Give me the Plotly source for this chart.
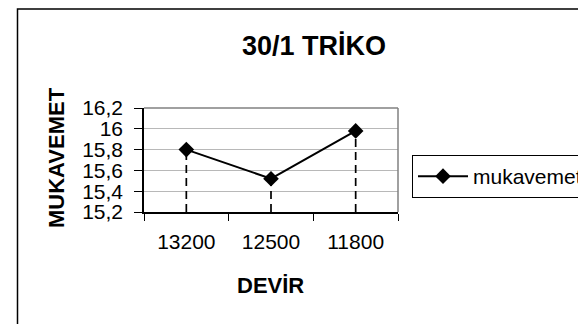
import plotly.graph_objects as go

categories = ["13200", "12500", "11800"]
mukavemet = [15.80, 15.52, 15.98]
y_ticks = [15.2, 15.4, 15.6, 15.8, 16.0, 16.2]
y_tick_labels = ["15,2", "15,4", "15,6", "15,8", "16", "16,2"]
series_name = "mukavemet"
title_text = "30/1 TRİKO"
x_title = "DEVİR"
y_title = "MUKAVEMET"

W, H = 586, 324
L, R, T, B = 136, 196, 100, 120
pw, ph = W - L - R, H - T - B

def px_x(x):
    return (x - L) / pw

def px_y(y):
    return (H - B - y) / ph

fig = go.Figure()

# drop lines
for c, v in zip(categories, mukavemet):
    fig.add_trace(go.Scatter(
        x=[c, c], y=[y_ticks[0], v], mode="lines",
        line=dict(color="black", width=1.7, dash="8px,5px"),
        showlegend=False, hoverinfo="skip"))

fig.add_trace(go.Scatter(
    x=categories, y=mukavemet, mode="lines+markers", name=series_name,
    line=dict(color="black", width=2),
    marker=dict(symbol="diamond", size=12, color="black")))

font = "Liberation Sans, Arial, sans-serif"
fig.update_layout(
    width=W, height=H,
    margin=dict(l=L, r=R, t=T, b=B, autoexpand=False),
    paper_bgcolor="white", plot_bgcolor="white",
    font=dict(family=font, size=21, color="black"),
    showlegend=True,
    legend=dict(x=px_x(404), y=px_y(147), xanchor="left", yanchor="top",
                bordercolor="black", borderwidth=1, bgcolor="white",
                font=dict(size=21), itemwidth=50, tracegroupgap=0),
    xaxis=dict(type="category", showgrid=False, showline=True, linecolor="black",
               linewidth=1.5, ticks="outside", tickson="boundaries", ticklen=7,
               tickcolor="black", tickwidth=1.2, tickfont=dict(size=21),
               ticklabelstandoff=10,
               range=[-0.5, 2.5], fixedrange=True),
    yaxis=dict(range=[15.2, 16.2], tickvals=y_ticks, ticktext=y_tick_labels,
               showgrid=True, gridcolor="#b8b8b8", gridwidth=1,
               showline=True, linecolor="black", linewidth=1.5,
               ticks="outside", ticklen=8, tickcolor="black", tickwidth=1.2,
               tickfont=dict(size=21), ticklabelstandoff=7,
               zeroline=False, fixedrange=True),
    shapes=[
        dict(type="line", xref="paper", yref="paper", x0=0, x1=1, y0=1, y1=1,
             line=dict(color="#808080", width=1.5)),
        dict(type="line", xref="paper", yref="paper", x0=1, x1=1, y0=0, y1=1,
             line=dict(color="#808080", width=1.5)),
        dict(type="rect", xref="paper", yref="paper",
             x0=px_x(9.5), x1=px_x(600), y0=px_y(318.5), y1=px_y(1),
             line=dict(color="black", width=1.5)),
    ],
    annotations=[
        dict(text="<b>" + title_text + "</b>", x=px_x(306), y=px_y(38),
             xref="paper", yref="paper", showarrow=False,
             font=dict(size=27), xanchor="center", yanchor="middle"),
        dict(text="<b>" + x_title + "</b>", x=px_x(262), y=px_y(277),
             xref="paper", yref="paper", showarrow=False,
             font=dict(size=22), xanchor="center", yanchor="middle"),
        dict(text="<b>" + y_title + "</b>", x=px_x(48), y=px_y(150),
             xref="paper", yref="paper", showarrow=False, textangle=-90,
             font=dict(size=22), xanchor="center", yanchor="middle"),
    ],
)

fig.write_html("out.html")
